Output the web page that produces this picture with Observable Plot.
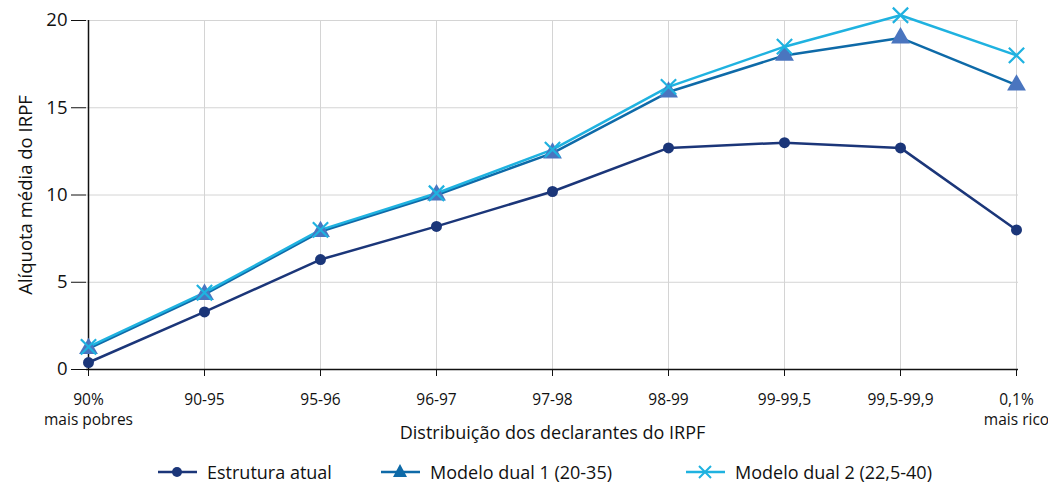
<!DOCTYPE html>
<html>
<head>
<meta charset="utf-8">
<script src="https://cdn.jsdelivr.net/npm/d3@7"></script>
<script src="https://cdn.jsdelivr.net/npm/@observablehq/plot@0.6"></script>
<style>
  body { margin: 0; background: #fff; font-family: "Open Sans", "Noto Sans", sans-serif; overflow: hidden; }
  #chart svg { display: block; }
  #legend { position: relative; height: 32px; font-size: 18px; color: #111; }
  .item { position: absolute; top: 10px; height: 24px; display: flex; align-items: center; white-space: nowrap; }
  .item svg { margin-right: 10px; }
  .item span { line-height: 1; }
</style>
</head>
<body>
<div id="chart"></div>
<div id="legend"></div>
<script>
const categories = ["90%\nmais pobres", "90-95", "95-96", "96-97", "97-98", "98-99", "99-99,5", "99,5-99,9", "0,1%\nmais rico"];
const estruturaAtual = [0.4, 3.3, 6.3, 8.2, 10.2, 12.7, 13.0, 12.7, 8.0];
const modeloDual1 = [1.2, 4.3, 7.9, 10.0, 12.4, 15.9, 18.0, 19.0, 16.3];
const modeloDual2 = [1.3, 4.4, 8.0, 10.1, 12.6, 16.2, 18.5, 20.3, 18.0];
const seriesNames = ["Estrutura atual", "Modelo dual 1 (20-35)", "Modelo dual 2 (22,5-40)"];
const yTicks = [0, 5, 10, 15, 20];
const xTitle = "Distribuição dos declarantes do IRPF";
const yTitle = "Alíquota média do IRPF";

const colors = { navy: "#1b3679", dual1: "#0e6aa8", dual1Marker: "#4a75bf", dual2: "#1fb2e0" };

const mk = (vals, s) => categories.map((c, i) => ({ cat: c, v: vals[i], s }));
const d0 = mk(estruturaAtual, seriesNames[0]);
const d1 = mk(modeloDual1, seriesNames[1]);
const d2 = mk(modeloDual2, seriesNames[2]);

const chart = Plot.plot({
  width: 1048,
  height: 450,
  marginLeft: 86,
  marginRight: 30,
  marginTop: 20,
  marginBottom: 81,
  style: { fontFamily: "Open Sans, Noto Sans, sans-serif", fontSize: "15px", color: "#111" },
  x: { type: "point", domain: categories, padding: 0 },
  y: { domain: [0, 20] },
  marks: [
    Plot.gridX({ stroke: "#d4d4d4", strokeOpacity: 1 }),
    Plot.gridY(yTicks, { stroke: "#d4d4d4", strokeOpacity: 1 }),
    Plot.axisX({ tickSize: 7, tickPadding: 14, fontSize: 15.5, lineHeight: 1.3, label: null }),
    Plot.text([xTitle], { frameAnchor: "bottom", dy: 69, fontSize: 18, fill: "#111" }),
    Plot.axisY(yTicks, { tickSize: 15, tickPadding: 4, fontSize: 18.5, label: yTitle, labelAnchor: "center", labelArrow: "none", labelOffset: 68 }),
    Plot.ruleY([0], { stroke: "#111", strokeWidth: 1.5 }),
    Plot.ruleX([categories[0]], { stroke: "#111", strokeWidth: 1.5 }),
    Plot.line(d0, { x: "cat", y: "v", stroke: colors.navy, strokeWidth: 2.5 }),
    Plot.line(d1, { x: "cat", y: "v", stroke: colors.dual1, strokeWidth: 2.5 }),
    Plot.line(d2, { x: "cat", y: "v", stroke: colors.dual2, strokeWidth: 2.5 }),
    Plot.dot(d0, { x: "cat", y: "v", fill: colors.navy, r: 5.5, symbol: "circle" }),
    Plot.dot(d1, { x: "cat", y: "v", fill: colors.dual1Marker, r: 7, symbol: "triangle" }),
    Plot.dot(d2, { x: "cat", y: "v", stroke: colors.dual2, strokeWidth: 2.2, r: 7, symbol: "times" })
  ]
});
document.getElementById("chart").appendChild(chart);

// Legend
const legend = document.getElementById("legend");
const legendDefs = [
  { name: seriesNames[0], color: colors.navy, mcolor: colors.navy, sym: "circle", left: 158 },
  { name: seriesNames[1], color: colors.dual1, mcolor: colors.dual1, sym: "triangle", left: 381 },
  { name: seriesNames[2], color: colors.dual2, mcolor: colors.dual2, sym: "times", left: 686 }
];
for (const d of legendDefs) {
  const div = document.createElement("div");
  div.className = "item";
  div.style.left = d.left + "px";
  let marker = "";
  if (d.sym === "circle") marker = `<circle cx="19" cy="12" r="5" fill="${d.mcolor}"/>`;
  if (d.sym === "triangle") marker = `<path d="M19,4 L26,17 L12,17 Z" fill="${d.mcolor}"/>`;
  if (d.sym === "times") marker = `<path d="M13,6 L25,18 M25,6 L13,18" stroke="${d.mcolor}" stroke-width="2"/>`;
  div.innerHTML = `<svg width="39" height="24"><line x1="0" x2="39" y1="12" y2="12" stroke="${d.color}" stroke-width="2.5"/>${marker}</svg><span>${d.name}</span>`;
  legend.appendChild(div);
}
</script>
</body>
</html>
